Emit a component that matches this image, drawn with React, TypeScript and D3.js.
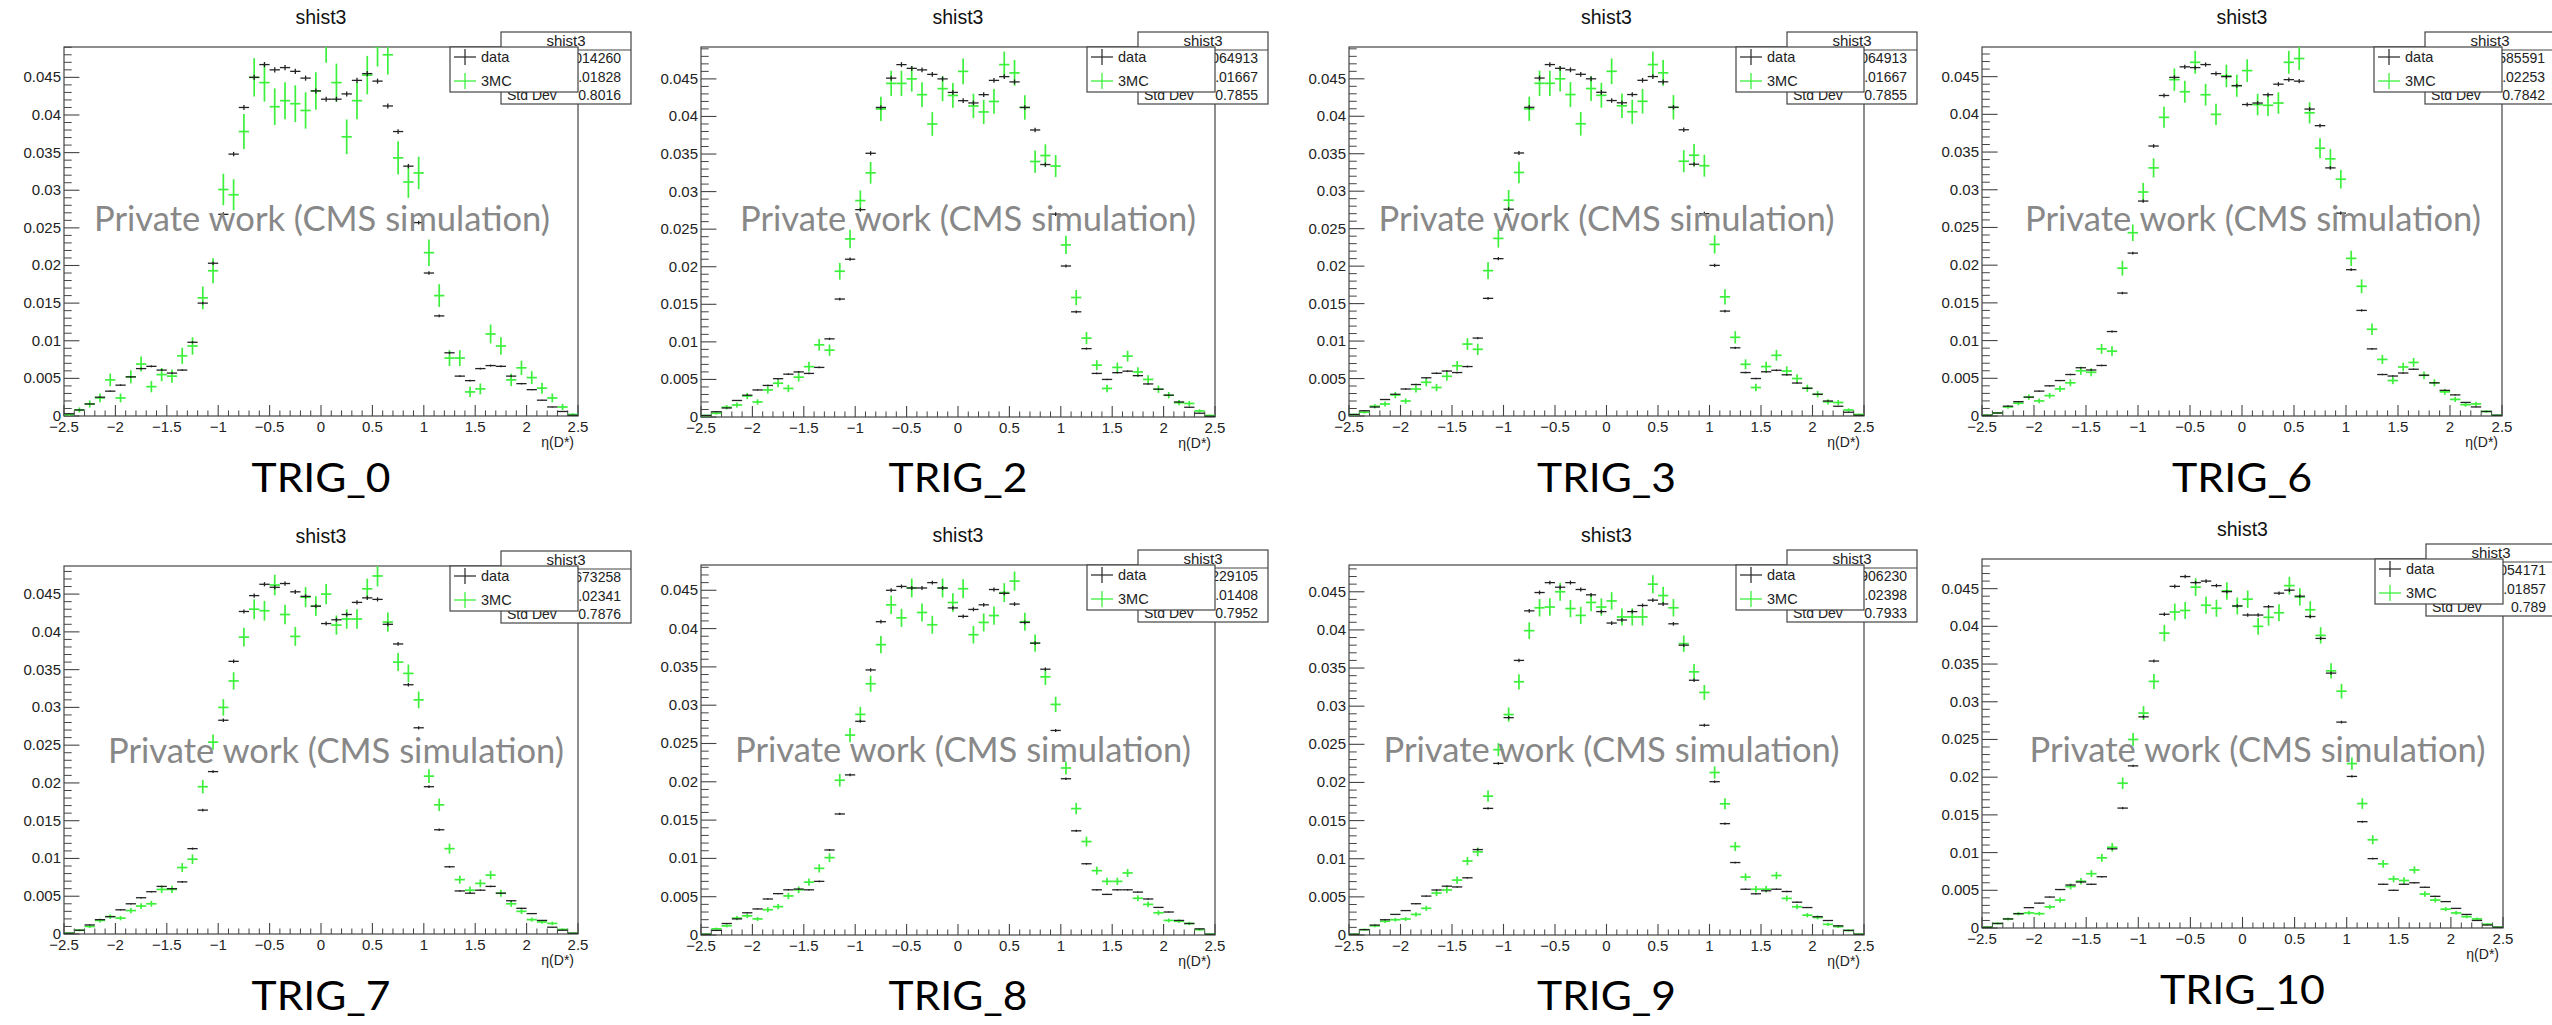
import React from "react";
import * as d3 from "d3";

// ---------------- data ----------------
const etaMin = -2.5;
const etaMax = 2.5;
const nBins = 50;

const trigLabels = ["TRIG_0", "TRIG_2", "TRIG_3", "TRIG_6", "TRIG_7", "TRIG_8", "TRIG_9", "TRIG_10"];
const histTitle = "shist3";
const xAxisTitle = "η(D*)";
const legendLabels = ["data", "3MC"];
const watermark = "Private work (CMS simulation)";
const yMajorTicks = [0, 0.005, 0.01, 0.015, 0.02, 0.025, 0.03, 0.035, 0.04, 0.045];
const xMajorTicks = [-2.5, -2, -1.5, -1, -0.5, 0, 0.5, 1, 1.5, 2, 2.5];

const dataTRIG0 = [0.0003, 0.0008, 0.0016, 0.0025, 0.0033, 0.0041, 0.0052, 0.0063, 0.0066, 0.0061,
  0.0057, 0.0061, 0.0098, 0.0150, 0.0203, 0.0268, 0.0348, 0.0410, 0.0450, 0.0467,
  0.0460, 0.0463, 0.0458, 0.0449, 0.0432, 0.0421, 0.0421, 0.0428, 0.0446, 0.0455,
  0.0445, 0.0412, 0.0378, 0.0332, 0.0257, 0.0190, 0.0133, 0.0084, 0.0053, 0.0047,
  0.0063, 0.0067, 0.0066, 0.0053, 0.0043, 0.0035, 0.0021, 0.0012, 0.0006, 0.0001];
const mcTRIG0 = [0.0002, 0.0008, 0.0016, 0.0024, 0.0048, 0.0024, 0.0052, 0.0069, 0.0039, 0.0055,
  0.0053, 0.0080, 0.0093, 0.0157, 0.0193, 0.0301, 0.0294, 0.0378, 0.0450, 0.0443,
  0.0411, 0.0419, 0.0415, 0.0406, 0.0432, 0.0496, 0.0443, 0.0371, 0.0419, 0.0453,
  0.0491, 0.0480, 0.0343, 0.0311, 0.0323, 0.0217, 0.0160, 0.0077, 0.0077, 0.0032,
  0.0036, 0.0109, 0.0093, 0.0048, 0.0064, 0.0051, 0.0037, 0.0024, 0.0012, 0.0002];

const dataTRIG2 = [0.0002, 0.0007, 0.0012, 0.0022, 0.0029, 0.0036, 0.0042, 0.0051, 0.0057, 0.0060,
  0.0058, 0.0066, 0.0104, 0.0157, 0.0210, 0.0276, 0.0351, 0.0412, 0.0451, 0.0469,
  0.0464, 0.0462, 0.0456, 0.0450, 0.0432, 0.0421, 0.0418, 0.0429, 0.0448, 0.0453,
  0.0446, 0.0412, 0.0382, 0.0336, 0.0270, 0.0201, 0.0140, 0.0091, 0.0058, 0.0050,
  0.0059, 0.0061, 0.0055, 0.0044, 0.0037, 0.0029, 0.0020, 0.0013, 0.0005, 0.0001];
const mcTRIG2 = [0.0002, 0.0005, 0.0013, 0.0016, 0.0028, 0.0020, 0.0036, 0.0045, 0.0038, 0.0053,
  0.0067, 0.0096, 0.0089, 0.0194, 0.0237, 0.0288, 0.0325, 0.0410, 0.0444, 0.0444,
  0.0450, 0.0429, 0.0390, 0.0437, 0.0428, 0.0460, 0.0414, 0.0406, 0.0420, 0.0469,
  0.0458, 0.0412, 0.0340, 0.0348, 0.0334, 0.0229, 0.0159, 0.0105, 0.0069, 0.0038,
  0.0066, 0.0081, 0.0060, 0.0050, 0.0037, 0.0029, 0.0019, 0.0018, 0.0008, 0.0002];

const dataTRIG3 = [0.0002, 0.0007, 0.0012, 0.0022, 0.0029, 0.0036, 0.0042, 0.0051, 0.0057, 0.0060,
  0.0058, 0.0066, 0.0104, 0.0157, 0.0210, 0.0276, 0.0351, 0.0412, 0.0451, 0.0469,
  0.0464, 0.0462, 0.0456, 0.0450, 0.0432, 0.0421, 0.0418, 0.0429, 0.0448, 0.0453,
  0.0446, 0.0412, 0.0382, 0.0336, 0.0270, 0.0201, 0.0140, 0.0091, 0.0058, 0.0050,
  0.0059, 0.0061, 0.0055, 0.0044, 0.0037, 0.0029, 0.0020, 0.0013, 0.0005, 0.0001];
const mcTRIG3 = [0.0002, 0.0005, 0.0013, 0.0016, 0.0028, 0.0020, 0.0036, 0.0045, 0.0038, 0.0053,
  0.0067, 0.0096, 0.0089, 0.0194, 0.0237, 0.0288, 0.0325, 0.0410, 0.0444, 0.0444,
  0.0450, 0.0429, 0.0390, 0.0437, 0.0428, 0.0460, 0.0414, 0.0406, 0.0420, 0.0469,
  0.0458, 0.0412, 0.0340, 0.0348, 0.0334, 0.0229, 0.0159, 0.0105, 0.0069, 0.0038,
  0.0066, 0.0081, 0.0060, 0.0050, 0.0037, 0.0029, 0.0019, 0.0018, 0.0008, 0.0002];

const dataTRIG6 = [0.0001, 0.0004, 0.0013, 0.0019, 0.0025, 0.0033, 0.0040, 0.0047, 0.0055, 0.0064,
  0.0061, 0.0067, 0.0112, 0.0163, 0.0216, 0.0285, 0.0358, 0.0425, 0.0449, 0.0463,
  0.0462, 0.0466, 0.0454, 0.0450, 0.0438, 0.0413, 0.0415, 0.0426, 0.0440, 0.0446,
  0.0444, 0.0407, 0.0385, 0.0329, 0.0269, 0.0194, 0.0140, 0.0089, 0.0055, 0.0053,
  0.0057, 0.0062, 0.0054, 0.0044, 0.0034, 0.0028, 0.0018, 0.0012, 0.0006, 0.0001];
const mcTRIG6 = [0.0001, 0.0004, 0.0012, 0.0017, 0.0025, 0.0020, 0.0027, 0.0036, 0.0044, 0.0060,
  0.0058, 0.0089, 0.0086, 0.0196, 0.0243, 0.0297, 0.0329, 0.0396, 0.0446, 0.0430,
  0.0469, 0.0426, 0.0400, 0.0451, 0.0438, 0.0458, 0.0413, 0.0412, 0.0415, 0.0469,
  0.0474, 0.0402, 0.0355, 0.0341, 0.0314, 0.0209, 0.0172, 0.0115, 0.0075, 0.0047,
  0.0065, 0.0071, 0.0054, 0.0044, 0.0032, 0.0022, 0.0015, 0.0016, 0.0006, 0.0001];

const dataTRIG7 = [0.0001, 0.0005, 0.0012, 0.0019, 0.0023, 0.0032, 0.0040, 0.0048, 0.0056, 0.0063,
  0.0060, 0.0069, 0.0113, 0.0164, 0.0215, 0.0283, 0.0361, 0.0427, 0.0448, 0.0463,
  0.0459, 0.0464, 0.0453, 0.0447, 0.0434, 0.0411, 0.0416, 0.0423, 0.0439, 0.0445,
  0.0443, 0.0410, 0.0384, 0.0330, 0.0273, 0.0195, 0.0138, 0.0089, 0.0057, 0.0054,
  0.0058, 0.0063, 0.0054, 0.0044, 0.0034, 0.0027, 0.0018, 0.0009, 0.0005, 0.0001];
const mcTRIG7 = [0.0001, 0.0005, 0.0010, 0.0018, 0.0023, 0.0021, 0.0031, 0.0037, 0.0040, 0.0059,
  0.0059, 0.0088, 0.0099, 0.0195, 0.0254, 0.0300, 0.0335, 0.0393, 0.0430, 0.0428,
  0.0462, 0.0423, 0.0394, 0.0446, 0.0434, 0.0450, 0.0409, 0.0417, 0.0417, 0.0457,
  0.0474, 0.0413, 0.0360, 0.0345, 0.0310, 0.0209, 0.0171, 0.0113, 0.0072, 0.0058,
  0.0067, 0.0078, 0.0054, 0.0040, 0.0030, 0.0019, 0.0016, 0.0014, 0.0006, 0.0001];

const dataTRIG8 = [0.0001, 0.0006, 0.0015, 0.0021, 0.0029, 0.0034, 0.0047, 0.0054, 0.0059, 0.0060,
  0.0059, 0.0070, 0.0111, 0.0158, 0.0209, 0.0279, 0.0346, 0.0409, 0.0450, 0.0455,
  0.0453, 0.0453, 0.0460, 0.0453, 0.0427, 0.0416, 0.0425, 0.0431, 0.0451, 0.0446,
  0.0432, 0.0408, 0.0381, 0.0347, 0.0267, 0.0204, 0.0136, 0.0093, 0.0059, 0.0053,
  0.0059, 0.0059, 0.0056, 0.0047, 0.0036, 0.0030, 0.0019, 0.0015, 0.0008, 0.0001];
const mcTRIG8 = [0.0001, 0.0008, 0.0012, 0.0022, 0.0025, 0.0021, 0.0033, 0.0037, 0.0051, 0.0059,
  0.0069, 0.0087, 0.0101, 0.0202, 0.0261, 0.0288, 0.0328, 0.0379, 0.0431, 0.0414,
  0.0453, 0.0421, 0.0405, 0.0453, 0.0434, 0.0452, 0.0392, 0.0408, 0.0417, 0.0447,
  0.0462, 0.0409, 0.0381, 0.0337, 0.0301, 0.0218, 0.0165, 0.0122, 0.0084, 0.0070,
  0.0070, 0.0081, 0.0048, 0.0040, 0.0029, 0.0019, 0.0018, 0.0015, 0.0007, 0.0001];

const dataTRIG9 = [0.0001, 0.0007, 0.0013, 0.0020, 0.0027, 0.0032, 0.0041, 0.0051, 0.0059, 0.0064,
  0.0063, 0.0075, 0.0112, 0.0166, 0.0225, 0.0285, 0.0360, 0.0425, 0.0449, 0.0462,
  0.0456, 0.0462, 0.0453, 0.0446, 0.0424, 0.0409, 0.0413, 0.0424, 0.0432, 0.0439,
  0.0434, 0.0408, 0.0380, 0.0334, 0.0275, 0.0201, 0.0146, 0.0095, 0.0060, 0.0054,
  0.0058, 0.0060, 0.0057, 0.0043, 0.0036, 0.0024, 0.0019, 0.0012, 0.0006, 0.0001];
const mcTRIG9 = [0.0001, 0.0007, 0.0012, 0.0018, 0.0020, 0.0021, 0.0027, 0.0035, 0.0055, 0.0059,
  0.0072, 0.0097, 0.0109, 0.0182, 0.0243, 0.0289, 0.0332, 0.0399, 0.0429, 0.0430,
  0.0450, 0.0428, 0.0419, 0.0436, 0.0430, 0.0438, 0.0417, 0.0417, 0.0417, 0.0460,
  0.0445, 0.0429, 0.0382, 0.0345, 0.0318, 0.0213, 0.0172, 0.0116, 0.0076, 0.0060,
  0.0060, 0.0078, 0.0048, 0.0037, 0.0026, 0.0023, 0.0014, 0.0011, 0.0006, 0.0001];

const dataTRIG10 = [0.0001, 0.0006, 0.0012, 0.0019, 0.0027, 0.0033, 0.0041, 0.0051, 0.0057, 0.0061,
  0.0058, 0.0068, 0.0105, 0.0159, 0.0215, 0.0280, 0.0354, 0.0416, 0.0453, 0.0466,
  0.0458, 0.0460, 0.0454, 0.0446, 0.0427, 0.0415, 0.0415, 0.0426, 0.0444, 0.0448,
  0.0440, 0.0413, 0.0384, 0.0338, 0.0273, 0.0201, 0.0141, 0.0092, 0.0058, 0.0050,
  0.0058, 0.0060, 0.0054, 0.0042, 0.0035, 0.0026, 0.0018, 0.0010, 0.0004, 0.0001];
const mcTRIG10 = [0.0001, 0.0006, 0.0012, 0.0019, 0.0020, 0.0019, 0.0028, 0.0037, 0.0055, 0.0062,
  0.0072, 0.0093, 0.0107, 0.0192, 0.0250, 0.0285, 0.0327, 0.0391, 0.0419, 0.0421,
  0.0452, 0.0428, 0.0424, 0.0447, 0.0427, 0.0436, 0.0400, 0.0412, 0.0418, 0.0454,
  0.0439, 0.0422, 0.0388, 0.0341, 0.0314, 0.0218, 0.0165, 0.0117, 0.0085, 0.0065,
  0.0063, 0.0077, 0.0045, 0.0037, 0.0025, 0.0020, 0.0015, 0.0012, 0.0005, 0.0001];

const dataSeries = [dataTRIG0, dataTRIG2, dataTRIG3, dataTRIG6, dataTRIG7, dataTRIG8, dataTRIG9, dataTRIG10];
const mcSeries = [mcTRIG0, mcTRIG2, mcTRIG3, mcTRIG6, mcTRIG7, mcTRIG8, mcTRIG9, mcTRIG10];

// statistical uncertainty scale (error = scale * sqrt(content))
const mcErrScale = [0.012, 0.008, 0.008, 0.007, 0.0063, 0.0058, 0.0055, 0.0055];
const dataErrScale = [0.0016, 0.0015, 0.0015, 0.0013, 0.0013, 0.0012, 0.0012, 0.0011];

const statEntries = ["1014260", "1064913", "1064913", "1585591", "1673258", "1229105", "1906230", "1054171"];
const statMean = ["0.01828", "0.01667", "0.01667", "0.02253", "0.02341", "0.01408", "0.02398", "0.01857"];
const statStdDev = ["0.8016", "0.7855", "0.7855", "0.7842", "0.7876", "0.7952", "0.7933", "0.789"];

// ---------------- layout ----------------
const W = 2552;
const H = 1025;
const frames = [
  { l: 64, r: 578, t: 47, b: 416 },
  { l: 701, r: 1215, t: 47, b: 417 },
  { l: 1349, r: 1864, t: 47, b: 416 },
  { l: 1982, r: 2502, t: 47, b: 416 },
  { l: 64, r: 578, t: 566, b: 934 },
  { l: 701, r: 1215, t: 565, b: 935 },
  { l: 1349, r: 1864, t: 565, b: 935 },
  { l: 1982, r: 2503, t: 559, b: 928 },
];
const trigBaseline = [492, 492, 492, 492, 1010, 1010, 1010, 1004];
const trigWidth = [139, 139, 139, 140, 139, 139, 139, 165];
const watermarkDx = [1, 10, 0, 11, 15, 5, 5, 15];
const watermarkBaseline = [231, 231, 231, 231, 763, 762, 762, 762];

const ROOT_FONT = "'Liberation Sans', Arial, Helvetica, sans-serif";
const SLIDE_FONT = "Lato, 'Open Sans', sans-serif";
const GREEN = "#3cf03c";
const BLACK = "#222";
const AXIS = "#444";

function Panel({ i }: { i: number }) {
  const f = frames[i];
  const data = dataSeries[i];
  const mc = mcSeries[i];
  const x = d3.scaleLinear().domain([etaMin, etaMax]).range([f.l, f.r]);
  const yMax = 1.05 * (d3.max(data) as number);
  const y = d3.scaleLinear().domain([0, yMax]).range([f.b, f.t]);
  const bw = (etaMax - etaMin) / nBins;
  const lows = d3.range(nBins).map((k) => etaMin + k * bw);

  const yMinor = d3.range(0, 60).filter((k) => k % 5 !== 0 && k * 0.001 <= yMax).map((k) => k * 0.001);
  const xMinor = d3.range(0, 51).filter((k) => k % 5 !== 0).map((k) => etaMin + k * 0.1);
  const yTickLen = 0.03 * (f.r - f.l);
  const xTickLen = 0.03 * (f.b - f.t);
  const yFmt = (v: number) => (v === 0 ? "0" : d3.format(".3~f")(v));
  const xFmt = d3.format("~g");

  const clipId = `clip-${i}`;
  const cx = (f.l + f.r) / 2;

  const marks = (vals: number[], scale: number, color: string, sw: number) =>
    vals.map((v, k) => {
      if (v <= 0) return null;
      const x0 = x(lows[k]);
      const x1 = x(lows[k] + bw);
      const xm = (x0 + x1) / 2;
      const e = scale * Math.sqrt(v);
      const yv = y(v);
      return (
        <g key={k}>
          <line x1={x0} x2={x1} y1={yv} y2={yv} stroke={color} strokeWidth={sw} />
          <line x1={xm} x2={xm} y1={y(v - e)} y2={y(v + e)} stroke={color} strokeWidth={sw} />
        </g>
      );
    });

  // stat box
  const sx0 = f.r - 77;
  const sx1 = f.r + 53;
  const sy0 = f.t - 15;
  const sy1 = f.t + 57;
  // legend
  const lx0 = f.r - 128;
  const lx1 = f.r;
  const ly0 = f.t;
  const ly1 = f.t + 45;

  return (
    <g>
      <defs>
        <clipPath id={clipId}>
          <rect x={f.l} y={f.t} width={f.r - f.l} height={f.b - f.t} />
        </clipPath>
      </defs>
      {/* title */}
      <text x={cx} y={f.t - 23} textAnchor="middle" fontFamily={ROOT_FONT} fontSize={19.5} fill="#111">
        {histTitle}
      </text>
      {/* frame */}
      <rect x={f.l} y={f.t} width={f.r - f.l} height={f.b - f.t} fill="none" stroke={AXIS} strokeWidth={1.2} />
      {/* y ticks */}
      {yMajorTicks.filter((v) => v <= yMax).map((v) => (
        <g key={"ym" + v}>
          <line x1={f.l} x2={f.l + yTickLen} y1={y(v)} y2={y(v)} stroke={AXIS} strokeWidth={1.1} />
          <text x={f.l - 3} y={y(v) + 5} textAnchor="end" fontFamily={ROOT_FONT} fontSize={15} fill="#222">
            {yFmt(v)}
          </text>
        </g>
      ))}
      {yMinor.map((v) => (
        <line key={"yn" + v} x1={f.l} x2={f.l + yTickLen / 2} y1={y(v)} y2={y(v)} stroke={AXIS} strokeWidth={1} />
      ))}
      {/* x ticks */}
      {xMajorTicks.map((v) => (
        <g key={"xm" + v}>
          <line x1={x(v)} x2={x(v)} y1={f.b} y2={f.b - xTickLen} stroke={AXIS} strokeWidth={1.1} />
          <text x={x(v)} y={f.b + 16} textAnchor="middle" fontFamily={ROOT_FONT} fontSize={15} fill="#222">
            {xFmt(v)}
          </text>
        </g>
      ))}
      {xMinor.map((v) => (
        <line key={"xn" + v} x1={x(v)} x2={x(v)} y1={f.b} y2={f.b - xTickLen / 2} stroke={AXIS} strokeWidth={1} />
      ))}
      <text x={f.r - 4} y={f.b + 31} textAnchor="end" fontFamily={ROOT_FONT} fontSize={14} fill="#222">
        {xAxisTitle}
      </text>
      {/* histograms */}
      <g clipPath={`url(#${clipId})`}>
        {marks(mc, mcErrScale[i], GREEN, 1.7)}
        {marks(data, dataErrScale[i], BLACK, 1.3)}
      </g>
      {/* stat box */}
      <rect x={sx0} y={sy0} width={sx1 - sx0} height={sy1 - sy0} fill="#fff" stroke={AXIS} strokeWidth={1.2} />
      <line x1={sx0} x2={sx1} y1={f.t + 3} y2={f.t + 3} stroke={AXIS} strokeWidth={1.2} />
      <text x={(sx0 + sx1) / 2} y={f.t - 1} textAnchor="middle" fontFamily={ROOT_FONT} fontSize={15} fill="#222">
        {histTitle}
      </text>
      {[
        ["Entries", statEntries[i], 16],
        ["Mean", statMean[i], 35],
        ["Std Dev", statStdDev[i], 53],
      ].map(([lab, val, dy]) => (
        <g key={lab as string}>
          <text x={sx0 + 6} y={f.t + (dy as number)} fontFamily={ROOT_FONT} fontSize={14} fill="#222">
            {lab}
          </text>
          <text x={sx1 - 10} y={f.t + (dy as number)} textAnchor="end" fontFamily={ROOT_FONT} fontSize={14} fill="#222">
            {val}
          </text>
        </g>
      ))}
      {/* legend */}
      <rect x={lx0} y={ly0} width={lx1 - lx0} height={ly1 - ly0} fill="#fff" stroke={AXIS} strokeWidth={1.2} />
      {legendLabels.map((lab, k) => {
        const my = ly0 + (k === 0 ? 10 : 34);
        const col = k === 0 ? "#333" : GREEN;
        return (
          <g key={lab}>
            <line x1={lx0 + 4} x2={lx0 + 26} y1={my} y2={my} stroke={col} strokeWidth={1.3} />
            <line x1={lx0 + 15} x2={lx0 + 15} y1={my - 8} y2={my + 8} stroke={col} strokeWidth={1.3} />
            <text x={lx0 + 31} y={my + 5} fontFamily={ROOT_FONT} fontSize={14.5} fill="#222">
              {lab}
            </text>
          </g>
        );
      })}
      {/* slide overlays */}
      <text
        x={cx + watermarkDx[i]}
        y={watermarkBaseline[i]}
        textAnchor="middle"
        fontFamily={SLIDE_FONT}
        fontSize={35}
        fill="#888"
        textLength={456}
        lengthAdjust="spacingAndGlyphs"
      >
        {watermark}
      </text>
      <text
        x={cx}
        y={trigBaseline[i]}
        textAnchor="middle"
        fontFamily={SLIDE_FONT}
        fontSize={41}
        fill="#000"
        textLength={trigWidth[i]}
        lengthAdjust="spacingAndGlyphs"
      >
        {trigLabels[i]}
      </text>
    </g>
  );
}

export default function App() {
  return (
    <div style={{ position: "absolute", left: 0, top: 0, width: W, height: H, background: "#fff" }}>
      <svg width={W} height={H} viewBox={`0 0 ${W} ${H}`} style={{ display: "block" }}>
        <rect x={0} y={0} width={W} height={H} fill="#fff" />
        {trigLabels.map((_, i) => (
          <Panel key={i} i={i} />
        ))}
      </svg>
    </div>
  );
}
